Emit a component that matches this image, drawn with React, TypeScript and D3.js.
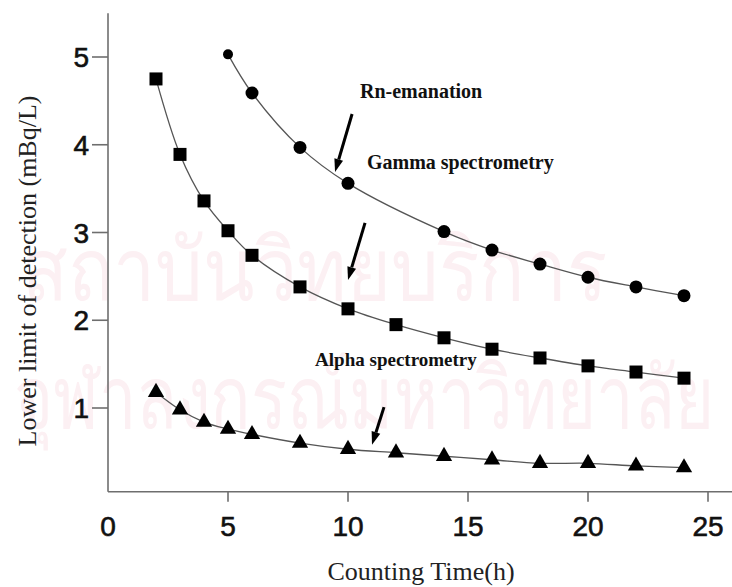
import React from "react";
import * as d3 from "d3";

const W = 732;
const H = 587;

// Counting time (h)
const gammaX = [5, 6, 8, 10, 14, 16, 18, 20, 22, 24];
const gammaY = [5.03, 4.59, 3.97, 3.56, 3.01, 2.8, 2.64, 2.49, 2.38, 2.28];

const alphaX = [2, 3, 4, 5, 6, 8, 10, 12, 14, 16, 18, 20, 22, 24];
const alphaY = [4.75, 3.89, 3.36, 3.02, 2.74, 2.38, 2.13, 1.95, 1.8, 1.67, 1.57, 1.48, 1.41, 1.34];

const rnX = [2, 3, 4, 5, 6, 8, 10, 12, 14, 16, 18, 20, 22, 24];
const rnY = [1.18, 0.98, 0.84, 0.76, 0.7, 0.6, 0.53, 0.49, 0.45, 0.41, 0.37, 0.37, 0.34, 0.32];

const xTicks = [0, 5, 10, 15, 20, 25];
const yTicks = [1, 2, 3, 4, 5];

const labels = [
  { text: "Rn-emanation", x: 10.5, y: 4.53, size: 20 },
  { text: "Gamma spectrometry", x: 10.79, y: 3.72, size: 20 },
  { text: "Alpha spectrometry", x: 8.63, y: 1.48, size: 19 },
];

const arrows = [
  { x1: 10.17, y1: 4.35, x2: 9.46, y2: 3.69 },
  { x1: 10.71, y1: 3.11, x2: 10.0, y2: 2.46 },
  { x1: 11.5, y1: 1.01, x2: 11.0, y2: 0.58 },
];

const watermark = ["สถาบันวิทยบริการ", "จุฬาลงกรณ์มหาวิทยาลัย"];

export default function App() {
  const x = d3.scaleLinear().domain([0, 25]).range([108, 708]);
  const y = d3.scaleLinear().domain([1, 5]).range([408, 57]);

  const line = d3
    .line<[number, number]>()
    .x((d) => x(d[0]))
    .y((d) => y(d[1]))
    .curve(d3.curveCatmullRom.alpha(0.5));

  const gamma = gammaX.map((v, i) => [v, gammaY[i]] as [number, number]);
  const alpha = alphaX.map((v, i) => [v, alphaY[i]] as [number, number]);
  const rn = rnX.map((v, i) => [v, rnY[i]] as [number, number]);

  const tri = d3.symbol().type(d3.symbolTriangle).size(115)();

  const x0 = x(0);
  const yBottom = y(0.045);
  const yTop = y(5.5);
  const xRight = x(26.1);

  const serif = "'Liberation Serif', 'Times New Roman', serif";
  const sans = "'Liberation Sans', Arial, sans-serif";

  return (
    <svg
      width={W}
      height={H}
      style={{ position: "absolute", left: 0, top: 0, background: "#fff" }}
    >
      <rect width={W} height={H} fill="#fff" />
      <g fill="#fcf0f3" fontFamily="'Noto Sans', 'DejaVu Sans', sans-serif" fontSize={86}>
        <text x={22} y={300} textLength={585} lengthAdjust="spacingAndGlyphs">{watermark[0]}</text>
        <text x={14} y={428} textLength={700} lengthAdjust="spacingAndGlyphs">{watermark[1]}</text>
      </g>

      {/* axes */}
      <g stroke="#6e6e6e" strokeWidth={1.6} fill="none">
        <line x1={x0} x2={x0} y1={yTop} y2={yBottom} />
        <line x1={x0} x2={xRight} y1={yBottom} y2={yBottom} />
        {yTicks.map((t) => (
          <line key={"yt" + t} x1={x0 - 16} x2={x0} y1={y(t)} y2={y(t)} />
        ))}
        {xTicks
          .filter((t) => t > 0)
          .map((t) => (
            <line key={"xt" + t} x1={x(t)} x2={x(t)} y1={yBottom} y2={yBottom + 10} />
          ))}
      </g>
      <g fontFamily={sans} fontSize={28} fill="#111" stroke="#111" strokeWidth={0.6}>
        {yTicks.map((t) => (
          <text key={"yl" + t} x={x0 - 19} y={y(t) + 10} textAnchor="end">
            {t}
          </text>
        ))}
        {xTicks.map((t) => (
          <text key={"xl" + t} x={x(t)} y={536} textAnchor="middle">
            {t}
          </text>
        ))}
      </g>
      <text
        fontFamily={serif}
        fontSize={26}
        fill="#222"
        textAnchor="middle"
        transform={`translate(36,271) rotate(-90)`}
      >
        Lower limit of detection (mBq/L)
      </text>
      <text fontFamily={serif} fontSize={26} fill="#222" textAnchor="middle" x={421} y={580}>
        Counting Time(h)
      </text>

      {/* curves */}
      <g fill="none" stroke="#555" strokeWidth={1.3}>
        <path d={line(gamma) || ""} />
        <path d={line(alpha) || ""} />
        <path d={line(rn) || ""} />
      </g>

      {/* markers */}
      <g fill="#000">
        {gamma.map((d, i) => (
          <circle key={"g" + i} cx={x(d[0])} cy={y(d[1])} r={i === 0 ? 5 : 6.5} />
        ))}
        {alpha.map((d, i) => (
          <rect key={"a" + i} x={x(d[0]) - 6.5} y={y(d[1]) - 6.5} width={13} height={13} />
        ))}
        {rn.map((d, i) => (
          <path key={"r" + i} d={tri || ""} transform={`translate(${x(d[0])},${y(d[1])})`} />
        ))}
      </g>

      {/* annotations */}
      <g fontFamily={serif} fontWeight="bold" fill="#111">
        {labels.map((l) => (
          <text key={l.text} x={x(l.x)} y={y(l.y)} fontSize={l.size}>
            {l.text}
          </text>
        ))}
      </g>
      <g>
        {arrows.map((a, i) => {
          const X1 = x(a.x1), Y1 = y(a.y1), X2 = x(a.x2), Y2 = y(a.y2);
          const ang = Math.atan2(Y2 - Y1, X2 - X1);
          const hl = 13, hw = 4.5;
          const bx = X2 - hl * Math.cos(ang), by = Y2 - hl * Math.sin(ang);
          const px = -Math.sin(ang) * hw, py = Math.cos(ang) * hw;
          return (
            <g key={"ar" + i}>
              <line x1={X1} y1={Y1} x2={bx} y2={by} stroke="#000" strokeWidth={3} />
              <path d={`M${X2},${Y2}L${bx + px},${by + py}L${bx - px},${by - py}Z`} fill="#000" />
            </g>
          );
        })}
      </g>
    </svg>
  );
}
